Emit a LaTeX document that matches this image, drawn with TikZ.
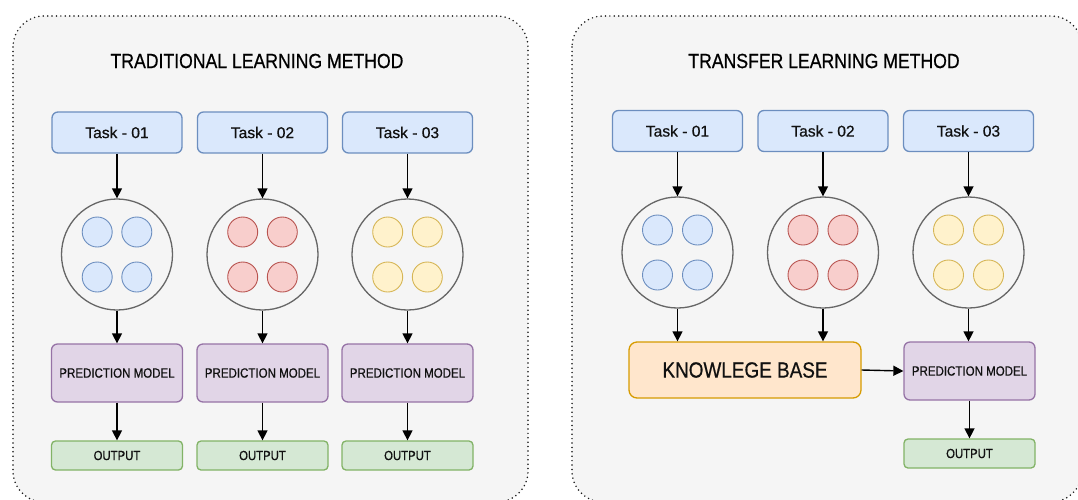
\documentclass[tikz,border=0pt]{standalone}
\usepackage{fontspec}
\setmainfont{Liberation Sans}[FakeBold=0.5]
\newfontfamily\capsf{Liberation Sans}[FakeStretch=0.86,FakeBold=0.6]
\usetikzlibrary{arrows.meta}
\definecolor{bluef}{HTML}{DAE8FC}\definecolor{blued}{HTML}{6C8EBF}
\definecolor{redf}{HTML}{F8CECC}\definecolor{redd}{HTML}{B85450}
\definecolor{yelf}{HTML}{FFF2CC}\definecolor{yeld}{HTML}{D6B656}
\definecolor{purf}{HTML}{E1D5E7}\definecolor{purd}{HTML}{9673A6}
\definecolor{grnf}{HTML}{D5E8D4}\definecolor{grnd}{HTML}{82B366}
\definecolor{orgf}{HTML}{FFE6CC}\definecolor{orgd}{HTML}{D79B00}
\definecolor{panelf}{HTML}{F5F5F5}
\definecolor{txt}{HTML}{111111}
\tikzset{
  panel/.style={draw=black!90, fill=panelf, line width=1.7pt, dash pattern=on 0pt off 4.4pt, line cap=round, rounded corners=31pt},
  boxbase/.style={rectangle, rounded corners=6pt, line width=1.3pt, inner sep=0pt, text=txt},
  taskbox/.style={boxbase, draw=blued, fill=bluef, minimum width=130pt, minimum height=41pt, font=\fontsize{15.6}{18}\selectfont},
  pmbox/.style={boxbase, draw=purd, fill=purf, minimum width=131pt, minimum height=58pt, font=\capsf\fontsize{13.4}{16}\selectfont},
  outbox/.style={boxbase, rounded corners=4pt, draw=grnd, fill=grnf, minimum width=131pt, minimum height=29pt, font=\capsf\fontsize{13.2}{16}\selectfont},
  kbbox/.style={boxbase, rounded corners=8pt, draw=orgd, fill=orgf, minimum width=232pt, minimum height=56pt, font=\capsf\fontsize{22}{26}\selectfont},
  bigcirc/.style={circle, draw=black!60, line width=1.3pt, minimum size=111pt, inner sep=0pt},
  dotc/.style={circle, line width=0.9pt, minimum size=30pt, inner sep=0pt},
  bdot/.style={dotc, draw=blued, fill=bluef},
  rdot/.style={dotc, draw=redd, fill=redf},
  ydot/.style={dotc, draw=yeld, fill=yelf},
  titletext/.style={font=\capsf\fontsize{20.5}{24}\selectfont, text=black},
  arr/.style={-{Triangle[length=10pt,width=10pt]}, line width=1.4pt, black},
}
\begin{document}
\begin{tikzpicture}[x=1pt,y=-1pt]
\useasboundingbox (0,0) rectangle (1078,499);
\begin{scope}
\clip (0,0) rectangle (1078,499);
\draw[panel] (13,16) rectangle (528,502);
\draw[panel] (572,16) rectangle (1082,502);
\end{scope}

\node[titletext] (t1) at (257,61) {TRADITIONAL LEARNING METHOD};
\node[titletext] (t2) at (824,61) {TRANSFER LEARNING METHOD};

% left panel
\foreach \i/\cx/\lab/\ds in {1/117/01/bdot, 2/262.5/02/rdot, 3/407.5/03/ydot}{
  \node[taskbox] (lt\i) at (\cx,132.5) {Task - \lab};
  \node[bigcirc] (lc\i) at (\cx,254.5) {};
  \node[\ds] (ld\i a) at ([shift={(-19.8,-22.5)}]lc\i.center) {};
  \node[\ds] (ld\i b) at ([shift={(19.8,-22.5)}]lc\i.center) {};
  \node[\ds] (ld\i c) at ([shift={(-19.8,22.5)}]lc\i.center) {};
  \node[\ds] (ld\i d) at ([shift={(19.8,22.5)}]lc\i.center) {};
  \node[pmbox] (lp\i) at (\cx,373) {PREDICTION MODEL};
  \node[outbox] (lo\i) at (\cx,455.5) {OUTPUT};
  \draw[arr] (lt\i) -- (lc\i);
  \draw[arr] (lc\i) -- (lp\i);
  \draw[arr] (lp\i) -- (lo\i);
}

% right panel
\foreach \i/\cx/\lab/\ds in {1/677.5/01/bdot, 2/823/02/rdot, 3/968.5/03/ydot}{
  \node[taskbox] (rt\i) at (\cx,131) {Task - \lab};
  \node[bigcirc] (rc\i) at (\cx,252.5) {};
  \node[\ds] (rd\i a) at ([shift={(-20,-22.5)}]rc\i.center) {};
  \node[\ds] (rd\i b) at ([shift={(20,-22.5)}]rc\i.center) {};
  \node[\ds] (rd\i c) at ([shift={(-20,22.5)}]rc\i.center) {};
  \node[\ds] (rd\i d) at ([shift={(20,22.5)}]rc\i.center) {};
  \draw[arr] (rt\i) -- (rc\i);
}
\node[kbbox] (kb) at (745,370) {KNOWLEGE BASE};
\node[pmbox] (rp) at (969.5,371) {PREDICTION MODEL};
\node[outbox] (ro) at (969.5,453.5) {OUTPUT};
\draw[arr] (rc1.south) -- (rc1.south |- kb.north);
\draw[arr] (rc2.south) -- (rc2.south |- kb.north);
\draw[arr] (rc3.south) -- (rc3.south |- rp.north);
\draw[arr] (kb.east) -- (rp.west);
\draw[arr] (rp) -- (ro);
\end{tikzpicture}
\end{document}
